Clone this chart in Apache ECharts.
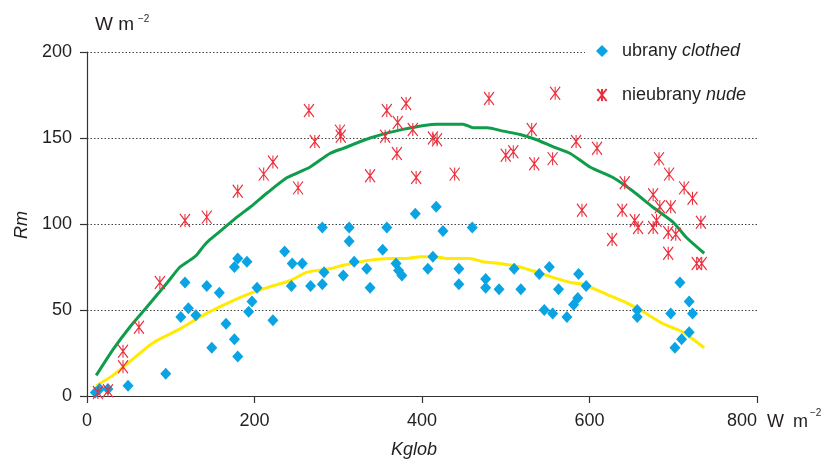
<!DOCTYPE html>
<html>
<head>
<meta charset="utf-8">
<script src="https://cdn.jsdelivr.net/npm/echarts@6/dist/echarts.min.js"></script>
<style>html,body{margin:0;padding:0;background:#fff}#c{width:826px;height:460px}</style>
</head>
<body>
<div id="c"></div>
<script>
// Kglob (W m-2), Rm (W m-2)
const clothed = [
 [10,2],[15,4],[25,4],[49,6],[94,13],[112,46],[117,66],[121,51],[130,47],[143,64],[149,28],[158,60],[166,42],[176,33],[180,23],[176,75],[180,80],[191,78],[193,49],[197,55],[203,63],[222,44],[236,84],[244,64],[245,77],[257,77],[267,64],[281,65],[283,72],
 [281,98],[306,70],[313,98],[313,90],[319,78],[334,74],[338,63],[353,85],[358,98],[369,77],[372,73],[376,70],[392,106],[407,74],[413,81],[417,110],[425,96],[444,74],[444,65],[460,98],[476,68],[476,63],[492,62],[510,74],[518,62],[540,71],[552,75],[563,62],[546,50],[556,48],[573,46],
 [587,71],[596,64],[586,57],[581,53],[657,50],[657,46],[697,48],[708,66],[719,55],[723,48],[719,37],[710,33],[702,28]
];
const nude = [
 [13,2],[25,3],[43,26],[43,17],[62,40],[87,66],[117,102],[143,104],[180,119],[211,129],[222,136],[252,121],[265,166],[272,148],[302,154],[303,151],[338,128],[358,166],[381,170],[371,159],[356,151],[370,141],[389,155],[393,127],[413,150],[418,149],[439,129],[480,173],[500,140],[509,142],[531,155],[534,135],[556,138],[559,176],[584,148],[609,144],[642,124],[591,108],[639,108],[627,91],[654,102],[658,98],[683,138],[695,129],[713,121],[723,115],[676,117],[684,110],[697,110],[680,102],[676,98],[694,95],[703,94],[694,83],[733,101],[728,77],[734,77]
];
const nudeCurve = [
 [11,12],[31,27],[51,40],[72,52],[96,66],[111,75],[123,79],[131,82],[139,87],[147,91],[162,97],[179,104],[198,111],[215,118],[239,127],[266,133],[290,141],[306,144],[338,150],[377,155],[418,158],[449,158],[461,156],[478,156],[497,154],[517,152],[537,149],[556,145],[577,141],[601,133],[628,127],[652,119],[675,110],[700,101],[716,92],[737,83]
];
const clothedCurve = [
 [11,6],[31,12],[51,20],[79,31],[111,39],[135,46],[159,52],[191,59],[215,63],[242,67],[263,72],[290,74],[306,76],[338,79],[362,80],[382,80],[398,81],[413,81],[430,80],[457,80],[473,78],[493,77],[517,75],[537,72],[556,69],[577,66],[592,65],[621,59],[645,54],[664,49],[688,42],[712,37],[737,28]
];
const xTicks = [0, 200, 400, 600, 800];
const yTicks = [0, 50, 100, 150, 200];
const seriesNames = ['ubrany clothed', 'nieubrany nude'];

const FONT = 'Liberation Sans, Arial, sans-serif';
const TXT = '#231f20';
const chart = echarts.init(document.getElementById('c'), null, {renderer: 'canvas'});
chart.setOption({
  animation: false,
  backgroundColor: '#fff',
  grid: {left: 87, right: 69, top: 52, bottom: 64},
  xAxis: {
    type: 'value', min: xTicks[0], max: xTicks[xTicks.length - 1], interval: 200,
    axisLine: {show: true, lineStyle: {color: '#333', width: 1.2}},
    axisTick: {show: true, inside: false, length: 7, lineStyle: {color: '#333', width: 1.2}},
    axisLabel: {fontFamily: FONT, fontSize: 18, color: TXT, margin: 16, alignMaxLabel: 'right'},
    splitLine: {show: false}
  },
  yAxis: {
    type: 'value', min: yTicks[0], max: yTicks[yTicks.length - 1], interval: 50,
    axisLine: {show: true, lineStyle: {color: '#333', width: 1.2}},
    axisTick: {show: true, inside: false, length: 7, lineStyle: {color: '#333', width: 1.2}},
    axisLabel: {fontFamily: FONT, fontSize: 18, color: TXT, margin: 15},
    splitLine: {show: true, lineStyle: {color: '#444', width: 1, type: [1.5, 2]}}
  },
  legend: {
    orient: 'vertical', left: 585, top: 40,
    padding: [2, 30, 2, 11],
    backgroundColor: '#fff',
    itemWidth: 12, itemHeight: 12, itemGap: 26,
    data: seriesNames,
    formatter: function (name) {
      const parts = name.split(' ');
      return '{r|' + parts[0] + '} {i|' + parts[1] + '}';
    },
    textStyle: {
      padding: [0, 0, 0, 9],
      fontFamily: FONT, fontSize: 18, color: TXT,
      rich: {
        r: {fontFamily: FONT, fontSize: 18, color: TXT},
        i: {fontFamily: FONT, fontSize: 18, color: TXT, fontStyle: 'italic'}
      }
    }
  },
  series: [
    {name: 'green', type: 'line', data: nudeCurve, showSymbol: false, smooth: 0.2,
     lineStyle: {color: '#0f9d4b', width: 3}, z: 2, silent: true},
    {name: 'yellow', type: 'line', data: clothedCurve, showSymbol: false, smooth: 0.2,
     lineStyle: {color: '#ffea00', width: 3}, z: 2, silent: true},
    {name: seriesNames[0], type: 'scatter', data: clothed, symbol: 'diamond', symbolSize: [11, 12],
     itemStyle: {color: '#0aa3e3', opacity: 1}, z: 3},
    {name: seriesNames[1], type: 'scatter', data: nude,
     symbol: 'path://M0,0L10,13M10,0L0,13M5,0L5,13', symbolSize: [10, 13],
     itemStyle: {color: '#ec2c3a', borderColor: '#ec2c3a', borderWidth: 1.2, opacity: 1}, z: 4}
  ],
  graphic: [
    {type: 'text', x: 95, y: 25, style: {text: 'W m', font: '19px ' + FONT, fill: TXT, verticalAlign: 'middle'}},
    {type: 'text', x: 138, y: 19, style: {text: '\u22122', font: '10px ' + FONT, fill: TXT, verticalAlign: 'middle'}},
    {type: 'text', x: 767, y: 422, style: {text: 'W\u2002m', font: '18px ' + FONT, fill: TXT, verticalAlign: 'middle'}},
    {type: 'text', x: 810, y: 413, style: {text: '\u22122', font: '10px ' + FONT, fill: TXT, verticalAlign: 'middle'}},
    {type: 'text', x: 22, y: 225, rotation: Math.PI / 2,
     style: {text: 'Rm', font: 'italic 18px ' + FONT, fill: TXT, align: 'center', verticalAlign: 'middle'}},
    {type: 'text', x: 414, y: 450,
     style: {text: 'Kglob', font: 'italic 18px ' + FONT, fill: TXT, align: 'center', verticalAlign: 'middle'}}
  ]
});
</script>
</body>
</html>
